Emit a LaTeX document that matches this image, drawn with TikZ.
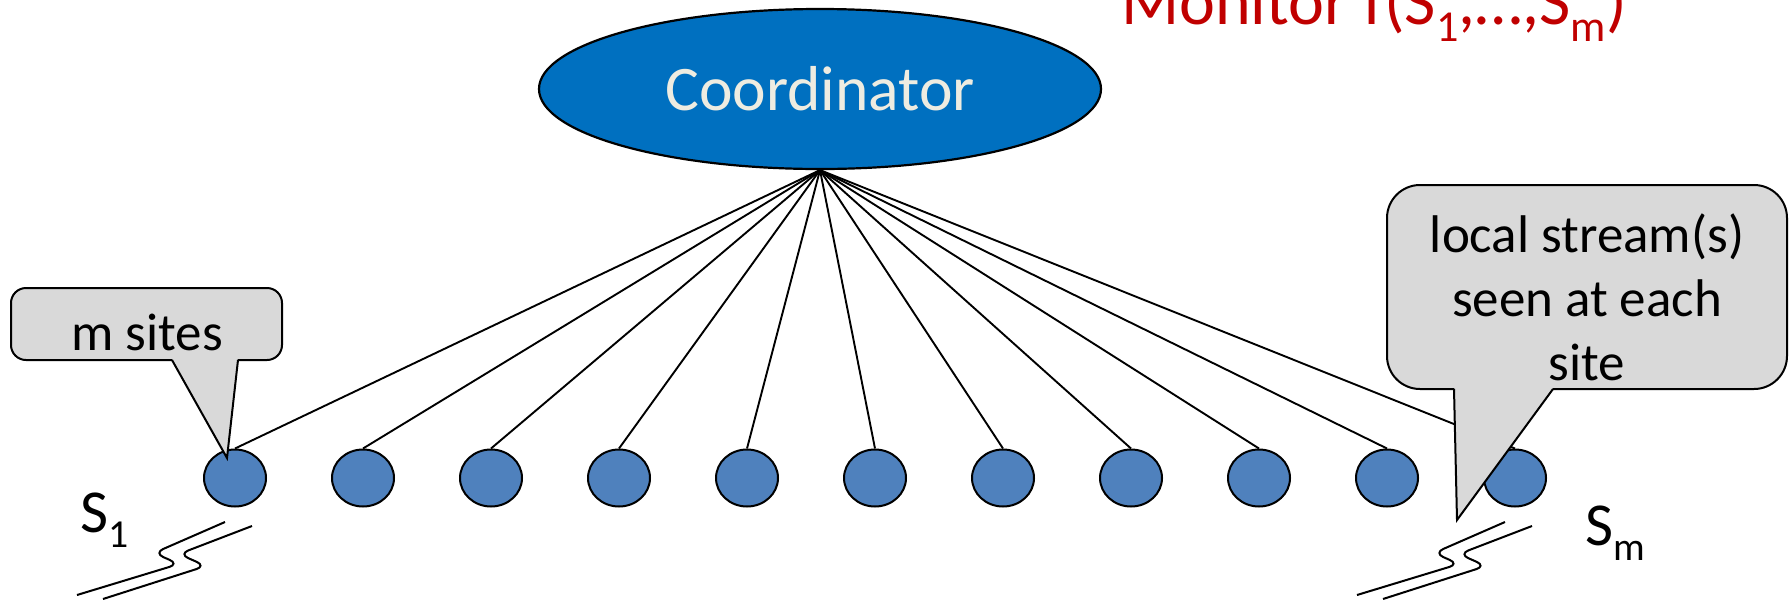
\documentclass[tikz,border=0pt]{standalone}
\usepackage{fontspec}
\setmainfont{Carlito}
\usepackage{graphicx}
\usetikzlibrary{shapes.geometric,backgrounds}

\definecolor{coordblue}{HTML}{0070C0}
\definecolor{siteblue}{HTML}{4F81BD}
\definecolor{cream}{HTML}{EEECE1}
\definecolor{bubblegray}{HTML}{D9D9D9}
\definecolor{titlered}{HTML}{C00000}

% lowered, reduced index such as the 1 in S_1
\newcommand{\lowidx}[1]{\raisebox{-0.26em}{\scalebox{0.65}{#1}}}

\tikzset{
  link/.style={line width=1.9pt},
  site/.style={ellipse, draw=black, line width=2pt, fill=siteblue,
    minimum width=62pt, minimum height=57pt, inner sep=0pt},
  bubble/.style={rectangle, draw=black, line width=2pt, fill=bubblegray,
    rounded corners=#1, inner sep=0pt},
  bubbletext/.style={font=\fontsize{53}{64}\selectfont, inner sep=0pt, align=center},
  sitelabel/.style={anchor=base west, font=\fontsize{61}{61}\selectfont, inner sep=0pt},
  pointer/.style={draw=black, line width=2pt, line join=miter},
  squiggle/.style={line width=2pt, rounded corners=10pt},
  streambreak/.pic={
    \draw[squiggle] (-158,117) -- (-56,86) -- (-81,75) -- (-10,44);
    \draw[squiggle] (-132,121) -- (-29,88) -- (-56,76) -- (17,48);
  }
}

\begin{document}
\begin{tikzpicture}[x=1pt,y=-1pt]
\useasboundingbox (0,0) rectangle (1791,603);

% title
\node[anchor=base west, text=titlered, font=\fontsize{68}{68}\selectfont, inner sep=0pt]
  (title) at (1121,24) {Monitor f(S\lowidx{1},…,S\lowidx{m})};

% coordinator
\node[ellipse, draw=black, line width=2.2pt, fill=coordblue, text=cream,
  minimum width=562pt, minimum height=160pt, inner sep=0pt,
  font=\fontsize{63.5}{63.5}\selectfont] (coord) at (820,89) {Coordinator};

% the m sites
\foreach \i in {1,...,11}
  \node[site] (s\i) at ({235+128*(\i-1)},478) {};

% links from the coordinator to every site
\begin{scope}[on background layer]
  \foreach \i in {1,...,11}
    \draw[link] (coord.south) -- (s\i.north);
\end{scope}

% site labels and their incoming streams
\node[sitelabel] (s1label) at (80,532) {S\lowidx{1}};
\node[sitelabel] (smlabel) at (1585,545) {S\lowidx{m}};
\pic at (s1) {streambreak};
\pic at (s11) {streambreak};

% callout: m sites
\node[bubble=15pt, minimum width=271pt, minimum height=72pt] (sitesbox) at (146.5,324) {};
\coordinate (sitestip) at (227,458);
\fill[bubblegray] (174,357) -- (236,357) -- (238,360) -- (sitestip) -- (172,360) -- cycle;
\draw[pointer] (172,360) -- (sitestip) -- (238,360);
\node[bubbletext, anchor=base] (sitestext) at (147,350) {m sites};

% callout: local streams
\node[bubble=33pt, minimum width=400pt, minimum height=204pt] (streambox) at (1587,287) {};
\coordinate (streamtip) at (1457,520);
\fill[bubblegray] (1456,386) -- (1551,386) -- (1553,389) -- (streamtip) -- (1454,389) -- cycle;
\draw[pointer] (1454,389) -- (streamtip) -- (1553,389);
\node[bubbletext, anchor=base] (streamtext) at (1587,380)
  {local stream(s)\\seen at each\\site};
\end{tikzpicture}
\end{document}
